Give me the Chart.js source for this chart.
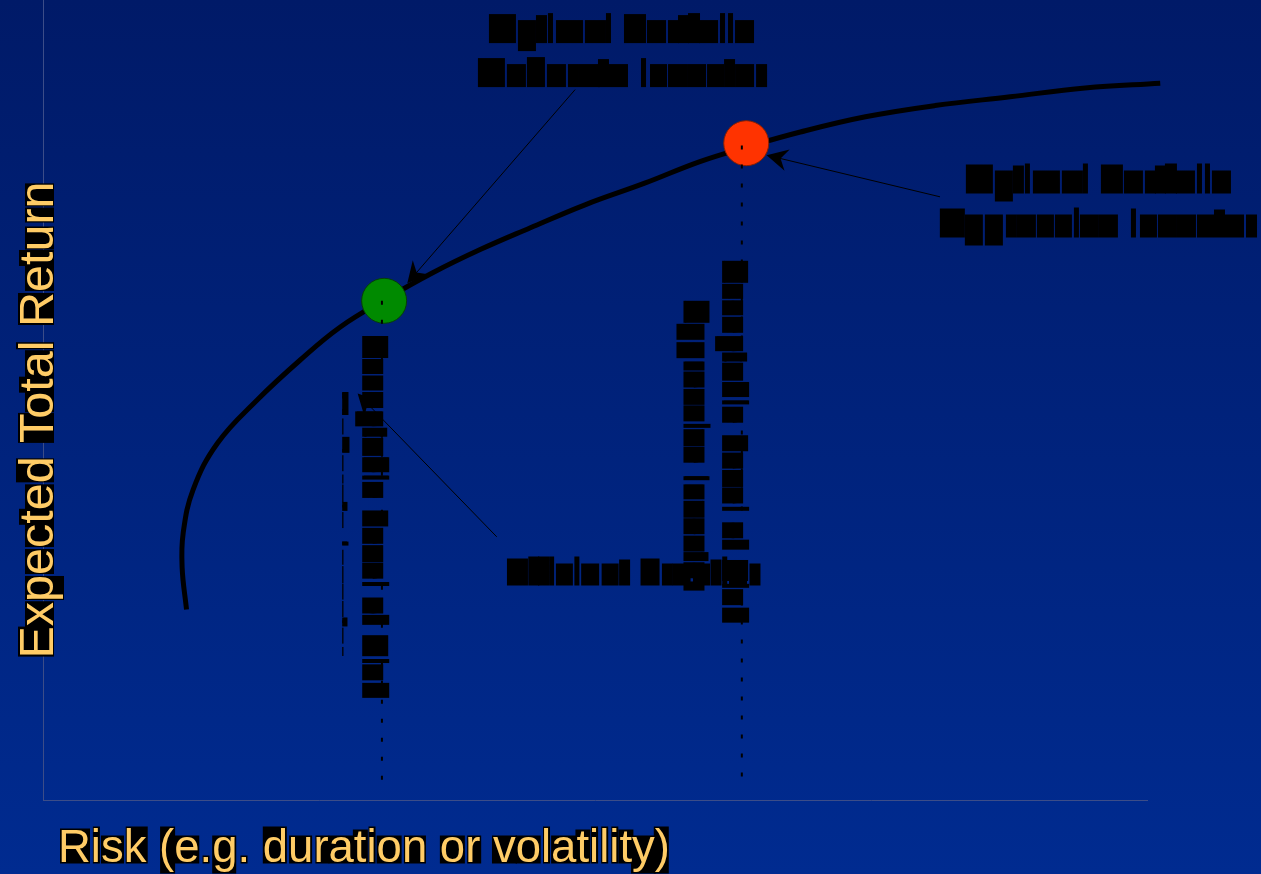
<!DOCTYPE html>
<html>
<head>
<meta charset="utf-8">
<script src="https://cdn.jsdelivr.net/npm/chart.js@4.4.0/dist/chart.umd.min.js"></script>
<style>
  html, body { margin: 0; padding: 0; background: #00237a; overflow: hidden; }
  canvas { display: block; }
</style>
</head>
<body>
<canvas id="frontier" width="1261" height="874"></canvas>
<script>
// Efficient frontier, risk on x and expected total return on y (relative 0–100 units)
const frontierRisk   = [13.0, 12.6, 12.7, 13.6, 15.8, 19.4, 23.3, 26.9, 30.9, 35.3, 39.6, 44.1, 49.1, 54.5, 59.5, 63.7, 68.6, 74.5, 80.8, 87.6, 94.4, 101.2];
const frontierReturn = [23.8, 29.1, 33.4, 38.8, 44.6, 50.0, 55.0, 59.1, 62.5, 65.9, 68.8, 71.5, 74.4, 77.1, 79.8, 81.6, 83.5, 85.4, 86.8, 87.9, 89.0, 89.6];

// Optimal portfolios on the frontier
const portfolioNames   = ['Moderate Investor', 'Aggressive Investor'];
const portfolioRisk    = [30.9, 63.7];
const portfolioReturn  = [62.4, 82.1];
const portfolioColors  = ['#008a00', '#ff3300'];
const portfolioBorders = ['#064006', '#8a2000'];

// Dotted drop lines from each portfolio down to the risk axis
const dropRisk   = [30.7, 63.3];
const dropTop    = [62.4, 81.8];
const dropBottom = [1.3, 1.9];

// Callout texts with their leader arrows
const calloutLines = [['Optimal Portfolio', 'Moderate Investor'], ['Optimal Portfolio', 'Aggressive Investor'], ['Efficient Frontier']];
const calloutSize  = [36, 36, 35];
const calloutX     = [52.4, 95.6, 53.4];
const calloutY     = [94.8, 76.0, 27.0];
const arrowFromX   = [48.2, 81.25, 41.1];
const arrowFromY   = [88.8, 75.4, 32.9];
const arrowToX     = [33.0, 65.55, 28.5];
const arrowToY     = [64.6, 80.6, 50.8];

// Vertical labels running down beside the drop lines
const sideLabels   = ['Acceptable Level of Risk', 'Moderate Investor', 'Acceptable Level of Risk', 'Aggressive Investor'];
const sideLabelX   = [29.05, 25.45, 61.65, 58.15];
const sideLabelY   = [58.0, 51.25, 67.4, 62.4];
const sideLabelCut = [null, 27.1, null, null];

// Axis titles
const xAxisTitle = 'Risk (e.g. duration or volatility)';
const yAxisTitle = 'Expected Total Return';

const FONT = '"Liberation Sans", Arial, sans-serif';

// Text drawn over a black box behind every glyph
function boxedText(ctx, text, x, y, angle, size, fill, align, padX) {
  ctx.save();
  ctx.translate(x, y);
  ctx.rotate(angle);
  ctx.font = size + 'px ' + FONT;
  ctx.textBaseline = 'alphabetic';
  ctx.textAlign = 'left';
  const total = ctx.measureText(text).width;
  const start = align === 'center' ? -total / 2 : 0;
  const padY = 1.5;
  ctx.fillStyle = '#000';
  for (let i = 0; i < text.length; i++) {
    const ch = text[i];
    if (!ch.trim()) continue;
    const pos = start + ctx.measureText(text.slice(0, i)).width;
    const m = ctx.measureText(ch);
    const l = pos - m.actualBoundingBoxLeft - padX;
    const r = pos + m.actualBoundingBoxRight + padX;
    const t = -m.actualBoundingBoxAscent - padY;
    const b = m.actualBoundingBoxDescent + padY;
    ctx.fillRect(l, t, r - l, b - t);
  }
  ctx.fillStyle = fill;
  ctx.fillText(text, start, 0);
  ctx.restore();
}

function arrow(ctx, x0, y0, x1, y1) {
  const dx = x1 - x0, dy = y1 - y0;
  const len = Math.hypot(dx, dy);
  const ux = dx / len, uy = dy / len;
  const nx = -uy, ny = ux;
  const L = 21, W = 11;
  ctx.save();
  ctx.strokeStyle = '#000';
  ctx.lineWidth = 1;
  ctx.beginPath();
  ctx.moveTo(x0, y0);
  ctx.lineTo(x1 - ux * L * 0.6, y1 - uy * L * 0.6);
  ctx.stroke();
  ctx.fillStyle = '#000';
  ctx.beginPath();
  ctx.moveTo(x1, y1);
  ctx.lineTo(x1 - ux * L + nx * W, y1 - uy * L + ny * W);
  ctx.lineTo(x1 - ux * L * 0.68, y1 - uy * L * 0.68);
  ctx.lineTo(x1 - ux * L - nx * W, y1 - uy * L - ny * W);
  ctx.closePath();
  ctx.fill();
  ctx.restore();
}

const slideBackground = {
  id: 'slideBackground',
  beforeDraw(chart) {
    const { ctx, width, height } = chart;
    const g = ctx.createLinearGradient(0, 0, 0, height);
    g.addColorStop(0, '#001a68');
    g.addColorStop(1, '#002b90');
    ctx.save();
    ctx.fillStyle = g;
    ctx.fillRect(0, 0, width, height);
    ctx.restore();
  }
};

const annotations = {
  id: 'annotations',
  afterDatasetsDraw(chart) {
    const { ctx } = chart;
    const xs = chart.scales.x, ys = chart.scales.y;

    // side labels, reading top to bottom
    sideLabels.forEach((txt, i) => {
      const px = xs.getPixelForValue(sideLabelX[i]);
      const py = ys.getPixelForValue(sideLabelY[i]);
      ctx.save();
      if (sideLabelCut[i] !== null) {
        const cut = xs.getPixelForValue(sideLabelCut[i]);
        ctx.beginPath();
        ctx.rect(cut, 0, chart.width - cut, chart.height);
        ctx.clip();
      }
      boxedText(ctx, txt, px, py, Math.PI / 2, 33, '#000', 'left', 0);
      ctx.restore();
    });

    // callouts
    calloutLines.forEach((lines, i) => {
      const cx = xs.getPixelForValue(calloutX[i]);
      const cy = ys.getPixelForValue(calloutY[i]);
      lines.forEach((line, j) => boxedText(ctx, line, cx, cy + j * 44, 0, calloutSize[i], '#000', 'center', 0.5));
      arrow(ctx,
        xs.getPixelForValue(arrowFromX[i]), ys.getPixelForValue(arrowFromY[i]),
        xs.getPixelForValue(arrowToX[i]), ys.getPixelForValue(arrowToY[i]));
    });
  },
  afterDraw(chart) {
    const { ctx, chartArea } = chart;
    boxedText(ctx, xAxisTitle, chartArea.left + 15, chartArea.bottom + 62, 0, 45.5, '#ffcc66', 'left', 1);
    boxedText(ctx, yAxisTitle, chartArea.left + 9.5, (chartArea.top + chartArea.bottom) / 2 + 20, -Math.PI / 2, 48.5, '#ffcc66', 'center', 1);
  }
};

const dropDatasets = dropRisk.map((x, i) => ({
  label: 'drop ' + portfolioNames[i],
  data: [{ x: x, y: dropTop[i] }, { x: x, y: dropBottom[i] }],
  showLine: true,
  borderColor: '#000',
  borderWidth: 2,
  borderDash: [4, 15],
  pointRadius: 0
}));

const portfolioDatasets = portfolioNames.map((name, i) => ({
  label: name,
  data: [{ x: portfolioRisk[i], y: portfolioReturn[i] }],
  pointRadius: 22.5,
  pointBackgroundColor: portfolioColors[i],
  pointBorderColor: portfolioBorders[i],
  pointBorderWidth: 1
}));

const frontierDataset = {
  label: 'Efficient Frontier',
  data: frontierRisk.map((x, i) => ({ x: x, y: frontierReturn[i] })),
  showLine: true,
  borderColor: '#000',
  borderWidth: 5,
  borderCapStyle: 'butt',
  borderJoinStyle: 'round',
  tension: 0.4,
  pointRadius: 0,
  clip: false
};

new Chart(document.getElementById('frontier'), {
  type: 'scatter',
  data: { datasets: [...dropDatasets, ...portfolioDatasets, frontierDataset] },
  options: {
    responsive: false,
    devicePixelRatio: 1,
    animation: false,
    events: [],
    layout: { autoPadding: false, padding: { left: 43, right: 114, top: 0, bottom: 74 } },
    plugins: { legend: { display: false }, tooltip: { enabled: false } },
    scales: {
      x: {
        type: 'linear', min: 0, max: 100,
        ticks: { display: false },
        grid: { display: false, drawTicks: false },
        border: { display: true, color: '#3c4d88', width: 1 }
      },
      y: {
        type: 'linear', min: 0, max: 100,
        ticks: { display: false },
        grid: { display: false, drawTicks: false },
        border: { display: true, color: '#3c4d88', width: 1 }
      }
    }
  },
  plugins: [slideBackground, annotations]
});
</script>
</body>
</html>
